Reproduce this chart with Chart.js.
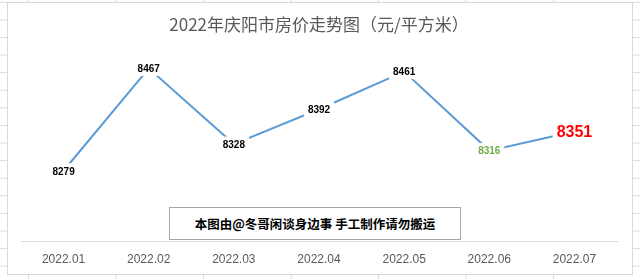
<!DOCTYPE html>
<html>
<head>
<meta charset="utf-8">
<script src="https://cdn.jsdelivr.net/npm/chart.js@4/dist/chart.umd.min.js"></script>
<style>
  html, body {
    margin: 0;
    padding: 0;
  }
  body {
    width: 640px;
    height: 279px;
    overflow: hidden;
    position: relative;
    background-color: #fff;
    background-image:
      linear-gradient(to right, #dadada 1px, transparent 1px),
      linear-gradient(to bottom, #dadada 1px, transparent 1px);
    background-size: 87.5px 17.6px;
    background-position: 28px 1.8px;
  }
  #box {
    position: absolute;
    left: 7px;
    top: 2px;
    width: 624px;
    height: 271px;
    border: 1px solid #d9d9d9;
    background: #fff;
  }
  #box canvas {
    display: block;
  }
  #stamp {
    position: absolute;
    left: 169px;
    top: 207px;
    width: 292px;
    height: 33px;
    box-sizing: border-box;
    border: 1px solid #a6a6a6;
    background: #fff;
    font: bold 12.5px "Noto Sans CJK SC", sans-serif;
    color: #000;
    line-height: 31px;
    text-align: center;
  }
</style>
</head>
<body>
<div id="box"><canvas id="priceChart" width="624" height="271"></canvas></div>
<div id="stamp">本图由@冬哥闲谈身边事 手工制作请勿搬运</div>

<script>
// data
const months = ["2022.01", "2022.02", "2022.03", "2022.04", "2022.05", "2022.06", "2022.07"];
const prices = [8279, 8467, 8328, 8392, 8461, 8316, 8351];
const yRange = [8150, 8500];

// label look: normal points black, June green, latest month big red
function labelStyle(i) {
  if (i === prices.length - 1) return { color: "#ff0000", font: "bold 16px 'Liberation Sans'", h: 16 };
  if (i === 5) return { color: "#70ad47", font: "bold 10px 'Liberation Sans'", h: 11 };
  return { color: "#000000", font: "bold 10px 'Liberation Sans'", h: 11 };
}

const valueLabels = {
  id: "valueLabels",
  afterDatasetsDraw(chart) {
    const ctx = chart.ctx;
    const meta = chart.getDatasetMeta(0);
    ctx.save();
    meta.data.forEach((pt, i) => {
      const st = labelStyle(i);
      const text = String(prices[i]);
      ctx.font = st.font;
      const w = ctx.measureText(text).width;
      ctx.fillStyle = "#fff";
      ctx.fillRect(pt.x - w / 2 - 4, pt.y - st.h / 2 - 2, w + 8, st.h + 4);
      ctx.fillStyle = st.color;
      ctx.textAlign = "center";
      ctx.textBaseline = "middle";
      ctx.fillText(text, pt.x, pt.y + 1);
    });
    ctx.restore();
  },
};

const ctx = document.getElementById("priceChart").getContext("2d");

new Chart(ctx, {
  type: "line",
  data: {
    labels: months,
    datasets: [
      {
        label: "房价",
        data: prices,
        borderColor: "#5b9bd5",
        borderWidth: 2,
        pointRadius: 0,
        tension: 0,
        fill: false,
      },
    ],
  },
  options: {
    responsive: false,
    animation: false,
    devicePixelRatio: 1,
    layout: {
      padding: { left: 13, right: 15, top: 0, bottom: 0 },
    },
    plugins: {
      legend: { display: false },
      tooltip: { enabled: false },
      title: {
        display: true,
        text: "2022年庆阳市房价走势图（元/平方米）",
        color: "#595959",
        font: { family: "'Noto Sans CJK SC'", size: 17, weight: "normal" },
        padding: { top: 11, bottom: 16 },
      },
    },
    scales: {
      x: {
        offset: true,
        grid: { display: false, drawTicks: false },
        border: { display: true, color: "#d9d9d9", width: 1 },
        ticks: {
          color: "#595959",
          padding: 11,
          font: { family: "'Liberation Sans'", size: 12 },
        },
        afterFit(scale) {
          scale.height = 33;
        },
      },
      y: {
        display: false,
        min: yRange[0],
        max: yRange[1],
      },
    },
  },
  plugins: [valueLabels],
});
</script>
</body>
</html>
